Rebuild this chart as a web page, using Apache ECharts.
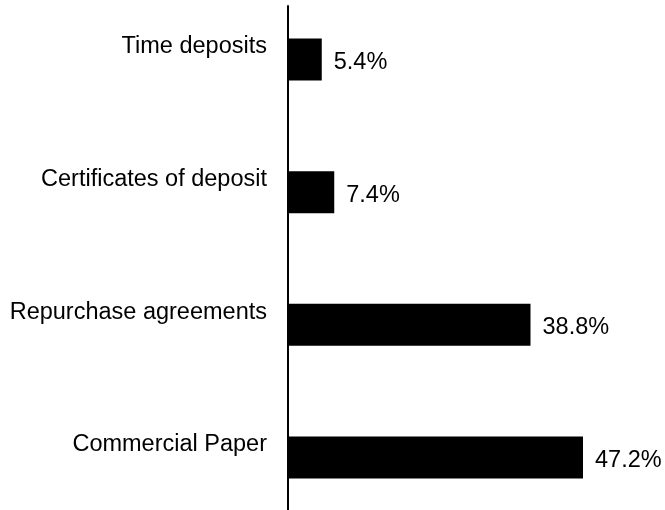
<!DOCTYPE html>
<html>
<head>
<meta charset="utf-8">
<script src="https://cdn.jsdelivr.net/npm/echarts@6/dist/echarts.min.js"></script>
<style>
  html, body { margin: 0; padding: 0; background: #fff; }
  #chart { width: 665px; height: 510px; }
</style>
</head>
<body>
<div id="chart"></div>
<script>
// categories, top to bottom
const categories = ['Time deposits', 'Certificates of deposit', 'Repurchase agreements', 'Commercial Paper']
const shares = [5.4, 7.4, 38.8, 47.2]

const chart = echarts.init(document.getElementById('chart'))
const font = 'Liberation Sans, Arial, sans-serif'

chart.setOption({
  animation: false,
  grid: [
    // bars
    { left: 288, width: 375, top: 59.5, height: 398 },
    // just for the long vertical axis line
    { left: 288, width: 375, top: 6, height: 504 }
  ],
  xAxis: [
    { type: 'value', gridIndex: 0, min: 0, max: 60, show: false },
    { type: 'value', gridIndex: 1, min: 0, max: 60, show: false }
  ],
  yAxis: [
    {
      type: 'category',
      gridIndex: 0,
      data: categories,
      inverse: true,
      boundaryGap: false,
      axisLine: { show: false },
      axisTick: { show: false },
      splitLine: { show: false },
      axisLabel: {
        color: '#000',
        fontFamily: font,
        fontSize: 23.5,
        margin: 21,
        verticalAlign: 'bottom',
        lineHeight: 25
      }
    },
    {
      type: 'value',
      gridIndex: 1,
      min: 0,
      max: 1,
      axisLine: { show: true, lineStyle: { color: '#000', width: 2 } },
      axisTick: { show: false },
      axisLabel: { show: false },
      splitLine: { show: false }
    }
  ],
  series: [
    {
      type: 'bar',
      xAxisIndex: 0,
      yAxisIndex: 0,
      data: shares,
      barWidth: 42,
      clip: false,
      itemStyle: { color: '#000' },
      label: {
        show: true,
        position: 'right',
        distance: 12,
        offset: [0, 3],
        color: '#000',
        fontFamily: font,
        fontSize: 23.5,
        formatter: p => p.value.toFixed(1) + '%'
      }
    }
  ]
})
</script>
</body>
</html>
